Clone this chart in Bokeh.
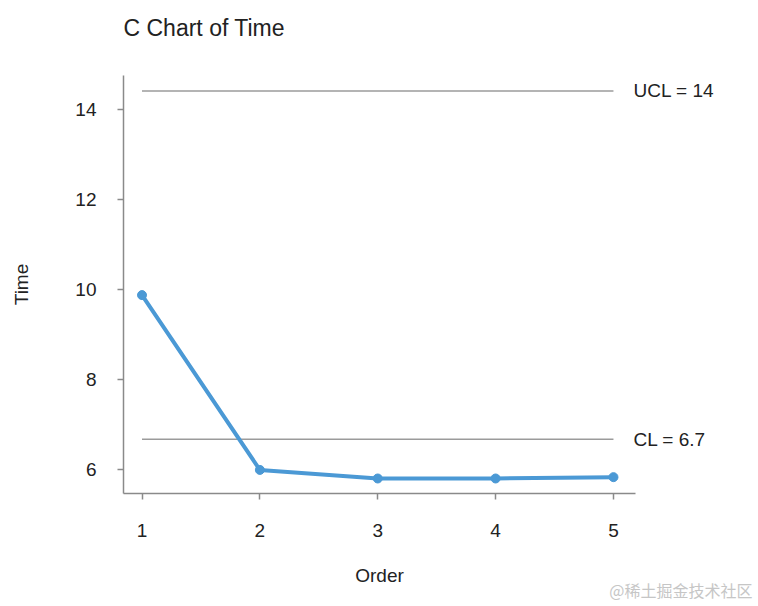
from bokeh.plotting import figure
from bokeh.models import Range1d, FixedTicker, Title, LinearAxis
from bokeh.embed import file_html
from bokeh.resources import INLINE

# ---- data ----
orders = [1, 2, 3, 4, 5]
times = [9.87, 5.99, 5.80, 5.80, 5.83]
ucl_value = 14.4
cl_value = 6.67
limit_values = [ucl_value, cl_value]
limit_texts = ["UCL = 14", "CL = 6.7"]
x_ticks = [1, 2, 3, 4, 5]
y_ticks = [6, 8, 10, 12, 14]
title_text = "C Chart of Time"
watermark = "@稀土掘金技术社区"

FONT = "Liberation Sans"
BLUE = "#4b99d5"
GREY_LINE = "#9b9b9b"
AXIS = "#8a8a8a"
TEXT = "#222222"

p = figure(
    frame_width=512, frame_height=418,
    min_border_left=123, min_border_right=121,
    min_border_top=75, min_border_bottom=112,
    x_range=Range1d(0.843, 5.187), y_range=Range1d(5.467, 14.744),
    output_backend="svg", toolbar_location=None,
)
p.outline_line_color = None
p.grid.visible = False

for ax in (p.xaxis[0], p.yaxis[0]):
    ax.axis_line_color = AXIS
    ax.axis_line_width = 1.5
    ax.major_tick_line_color = AXIS
    ax.major_tick_line_width = 1.5
    ax.major_tick_out = 6
    ax.major_tick_in = 0
    ax.minor_tick_line_color = None
    ax.major_label_text_font = FONT
    ax.major_label_text_font_size = "19px"
    ax.major_label_text_color = TEXT
    ax.axis_label_text_font = FONT
    ax.axis_label_text_font_size = "19px"
    ax.axis_label_text_font_style = "normal"
    ax.axis_label_text_color = TEXT

p.xaxis.ticker = FixedTicker(ticks=x_ticks)
p.yaxis.ticker = FixedTicker(ticks=y_ticks)
p.xaxis.axis_label = "Order"
p.yaxis.axis_label = "Time"
p.xaxis.major_label_standoff = 24
p.yaxis.major_label_standoff = 21
p.xaxis.axis_label_standoff = 25
p.yaxis.axis_label_standoff = 40

# control limit lines (from first to last order)
for lv in limit_values:
    p.line([orders[0], orders[-1]], [lv, lv], line_color=GREY_LINE, line_width=1.5)

p.line(orders, times, line_color=BLUE, line_width=4)
p.scatter(orders, times, size=9, fill_color=BLUE, line_color=BLUE)

# limit labels: a bare right-hand axis whose ticks sit on the limit values
limit_axis = LinearAxis(
    ticker=FixedTicker(ticks=limit_values),
    major_label_overrides=dict(zip(limit_values, limit_texts)),
    axis_line_color=None, major_tick_line_color=None, minor_tick_line_color=None,
    major_tick_out=0, major_tick_in=0, major_label_standoff=-2,
    major_label_text_font=FONT, major_label_text_font_size="19px",
    major_label_text_color=TEXT,
)
p.add_layout(limit_axis, "right")

# title: a blank spacer panel next to the frame, then the title itself
spacer = Title(text=" ", text_font_size="10px", standoff=22)
p.add_layout(spacer, "above")
title = Title(text=title_text, align="left", standoff=0,
              text_font=FONT, text_font_size="23px", text_font_style="normal",
              text_color=TEXT)
p.add_layout(title, "above")

wm = Title(text=watermark, align="right", vertical_align="top", standoff=-22,
           offset=-117, text_font="Noto Sans CJK SC", text_font_size="16px",
           text_font_style="normal", text_color="#c6c6c6")
p.add_layout(wm, "below")

open("out.html", "w").write(file_html(p, INLINE))
